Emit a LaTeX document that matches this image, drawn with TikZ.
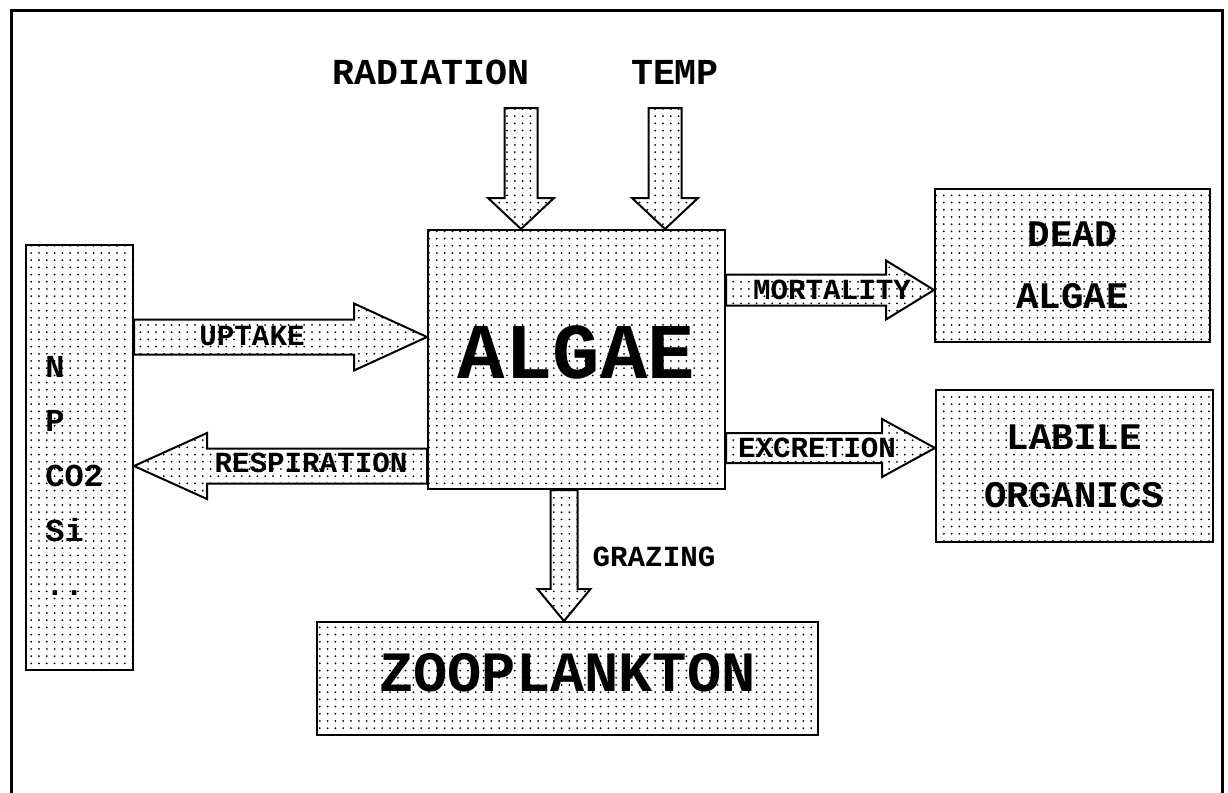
\documentclass[tikz,border=0pt]{standalone}
\usepackage{fontspec}
\setmonofont{Liberation Mono}
\usetikzlibrary{calc,patterns.meta}

\tikzdeclarepattern{
  name=stipple,
  type=uncolored,
  bounding box={(-0.6pt,-0.6pt) and (0.6pt,0.6pt)},
  tile size={(3.9pt,3.6pt)},
  code={\fill (0,0) circle[radius=0.5pt];}
}

% fat arrow: from, to, shaft half width, head half width, head length
\newcommand{\fatarrow}[5]{%
  \coordinate (fa-h) at ($(#2)!#5!(#1)$);
  \draw[flow] ($(#1)!#3!90:(#2)$) -- ($(fa-h)!#3!90:(#2)$) -- ($(fa-h)!#4!90:(#2)$)
    -- (#2) -- ($(fa-h)!#4!-90:(#2)$) -- ($(fa-h)!#3!-90:(#2)$)
    -- ($(#1)!#3!-90:(#2)$) -- cycle;
}

\begin{document}
\begin{tikzpicture}[
  x=0.5pt, y=-0.5pt,
  box/.style={rectangle, draw, line width=1pt, pattern=stipple, pattern color=black,
              inner sep=0pt, align=center, font=\ttfamily\bfseries},
  flow/.style={line width=1pt, pattern=stipple, pattern color=black, line join=miter},
  tag/.style={inner sep=0pt, font=\ttfamily\bfseries\fontsize{14.6}{16}\selectfont},
  head/.style={inner sep=0pt, font=\ttfamily\bfseries\fontsize{18.3}{20}\selectfont},
  elem/.style={inner sep=0pt, font=\ttfamily\bfseries\fontsize{16}{18}\selectfont}
]
  \useasboundingbox (0,0) rectangle (1228,793);
  \draw[line width=1.5pt] (11,793) -- (11,10) -- (1222,10) -- (1222,793);

  % compartments
  \node[box, minimum width=53.5pt, minimum height=212.5pt] (nutri) at (79.5,457.5) {};
  \node[box, minimum width=148.5pt, minimum height=129.5pt, text depth=7.5pt,
        font=\ttfamily\bfseries\fontsize{39.5}{42}\selectfont] (algae) at (576.5,359.5) {ALGAE};
  \node[box, minimum width=137.5pt, minimum height=76.5pt,
        font=\ttfamily\bfseries\fontsize{18.75}{31}\selectfont] (dead) at (1072.5,265.5) {DEAD\\ALGAE};
  \node[box, minimum width=138.5pt, minimum height=76pt,
        font=\ttfamily\bfseries\fontsize{18.75}{29}\selectfont] (labile) at (1074.5,466) {LABILE\\ORGANICS};
  \node[box, minimum width=250.5pt, minimum height=56.5pt, text depth=6.5pt,
        font=\ttfamily\bfseries\fontsize{28.5}{30}\selectfont] (zoo) at (567.5,678.5) {ZOOPLANKTON};

  \foreach \el [count=\i] in {N,P,CO2,Si,..}
    \node[elem, anchor=base west] (el-\i) at (45,{377+54.7*(\i-1)}) {\el};

  % forcing
  \node[head] (rad) at (431,72) {RADIATION};
  \node[head] (temp) at (675,72) {TEMP};
  \coordinate (radtop) at (521,108);
  \coordinate (temptop) at (665,108);

  % flow levels
  \coordinate (lvl-up) at (0,337);
  \coordinate (lvl-resp) at (0,466);
  \coordinate (lvl-mort) at (0,290);
  \coordinate (lvl-excr) at (0,448);
  \coordinate (col-graz) at (564,0);

  \fatarrow{radtop}{radtop |- algae.north}{8.25pt}{16.5pt}{15.5pt}
  \fatarrow{temptop}{temptop |- algae.north}{8.25pt}{16.5pt}{15.5pt}
  \fatarrow{nutri.east |- lvl-up}{algae.west |- lvl-up}{8.75pt}{16.75pt}{36.5pt}
  \fatarrow{algae.west |- lvl-resp}{nutri.east |- lvl-resp}{8.75pt}{16.5pt}{36.5pt}
  \fatarrow{algae.east |- lvl-mort}{dead.west |- lvl-mort}{7.75pt}{14.75pt}{24pt}
  \fatarrow{algae.east |- lvl-excr}{labile.west |- lvl-excr}{7.5pt}{14.5pt}{26.5pt}
  \fatarrow{col-graz |- algae.south}{col-graz |- zoo.north}{6.75pt}{13.25pt}{16pt}

  % flow labels
  \node[tag] (uptake) at (252,336) {UPTAKE};
  \node[tag] (resp) at (311,463) {RESPIRATION};
  \node[tag] (mort) at (832,290) {MORTALITY};
  \node[tag] (excr) at (817,448) {EXCRETION};
  \node[tag] (graz) at (654,557) {GRAZING};
\end{tikzpicture}
\end{document}
